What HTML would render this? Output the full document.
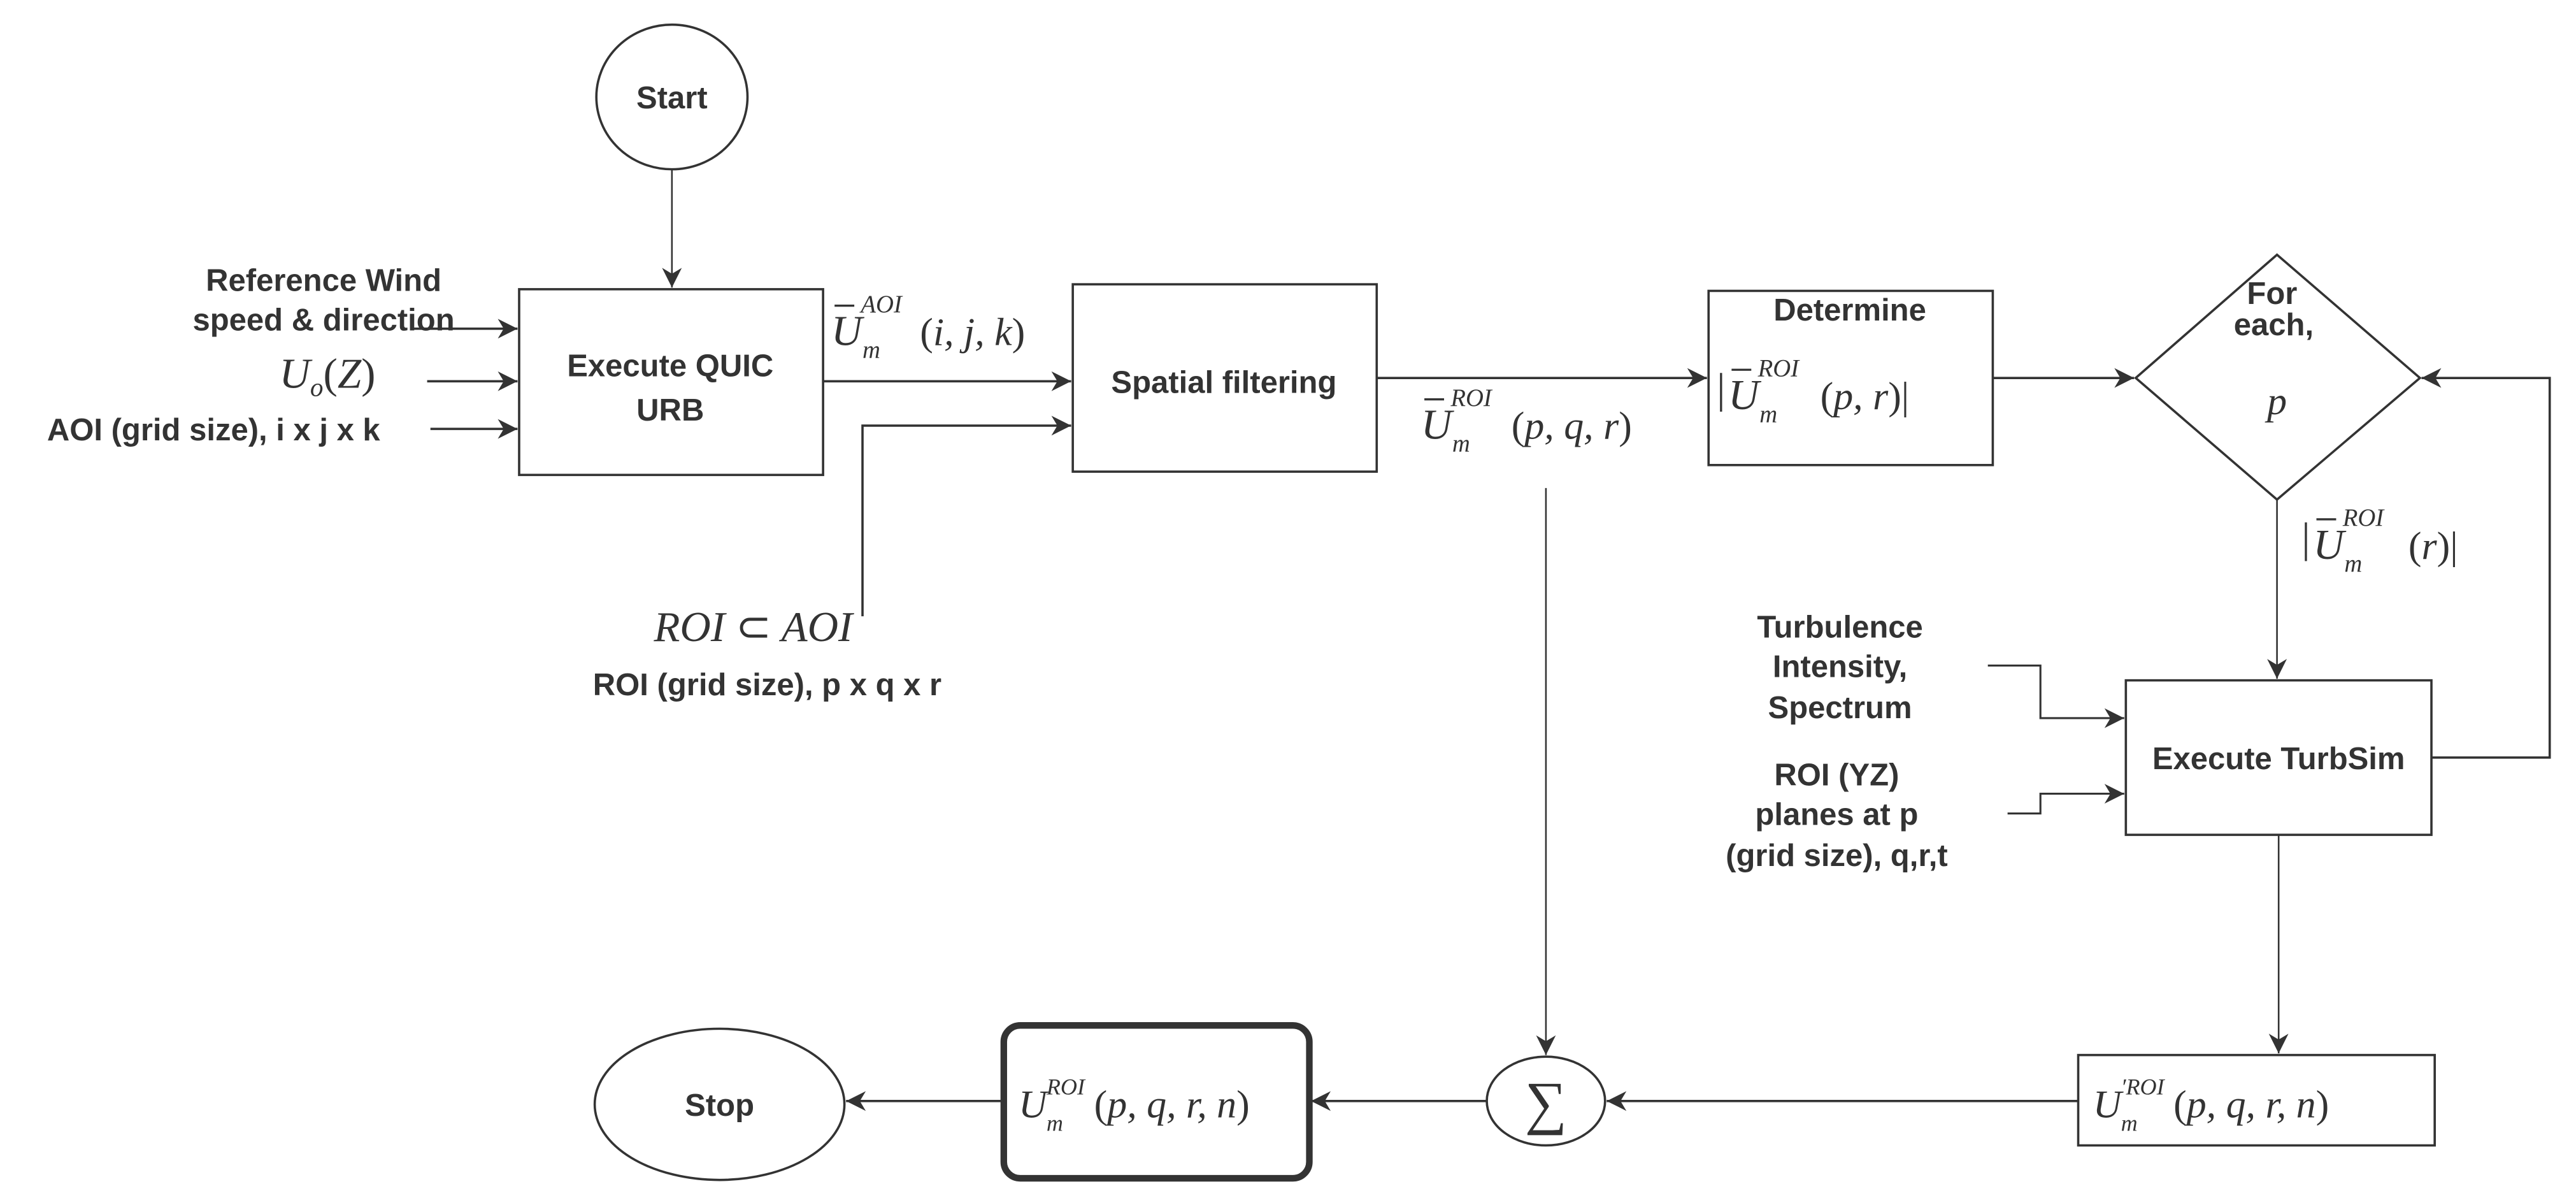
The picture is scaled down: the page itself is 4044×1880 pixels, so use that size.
<!DOCTYPE html>
<html><head><meta charset="utf-8"><style>
html,body{margin:0;padding:0;background:#fff;}
svg{display:block;}
.b{font-family:"Liberation Sans",sans-serif;font-weight:bold;font-size:19px;fill:#333;}
.m{font-family:"Liberation Serif",serif;font-style:italic;fill:#333;}
.u{font-family:"Liberation Serif",serif;fill:#333;}
</style></head><body>
<svg width="4044" height="1880" viewBox="0 0 1568 729" preserveAspectRatio="none" xmlns="http://www.w3.org/2000/svg">
<defs>
<marker id="a" viewBox="0 0 10 10" refX="10" refY="5" markerWidth="13" markerHeight="12" markerUnits="userSpaceOnUse" orient="auto">
<path d="M0,0 L10,5 L0,10 L3,5 z" fill="#333"/></marker>
</defs>
<g stroke="#333" stroke-width="1.4" fill="none">
<ellipse cx="409" cy="59" rx="46" ry="44"/>
<rect x="316" y="176" width="185" height="113"/>
<rect x="653" y="173" width="185" height="114"/>
<rect x="1040" y="177" width="173" height="106"/>
<polygon points="1386,155 1473,230 1386,304 1300,230"/>
<rect x="1294" y="414" width="186" height="94"/>
<rect x="1265" y="642" width="217" height="55"/>
<ellipse cx="941" cy="670" rx="36" ry="27"/>
<rect x="611" y="624" width="186" height="93" rx="10" stroke-width="4"/>
<ellipse cx="438" cy="672" rx="76" ry="46"/>

<line x1="409" y1="103" x2="409" y2="175" marker-end="url(#a)" stroke-width="1"/>
<line x1="250" y1="200" x2="315" y2="200" marker-end="url(#a)"/>
<line x1="260" y1="232" x2="315" y2="232" marker-end="url(#a)"/>
<line x1="262" y1="261" x2="315" y2="261" marker-end="url(#a)"/>
<line x1="501" y1="232" x2="652" y2="232" marker-end="url(#a)"/>
<polyline points="525,375 525,259 652,259" marker-end="url(#a)"/>
<line x1="838" y1="230" x2="1039" y2="230" marker-end="url(#a)"/>
<line x1="941" y1="297" x2="941" y2="642" marker-end="url(#a)" stroke-width="1"/>
<line x1="1213" y1="230" x2="1299" y2="230" marker-end="url(#a)"/>
<polyline points="1480,461 1552,461 1552,230 1474,230" marker-end="url(#a)"/>
<line x1="1386" y1="304" x2="1386" y2="413" marker-end="url(#a)" stroke-width="1"/>
<polyline points="1210,405 1242,405 1242,437 1293,437" marker-end="url(#a)" stroke-width="1.2"/>
<polyline points="1222,495 1242,495 1242,483 1293,483" marker-end="url(#a)" stroke-width="1.2"/>
<line x1="1387" y1="508" x2="1387" y2="641" marker-end="url(#a)" stroke-width="1"/>
<line x1="1265" y1="670" x2="978" y2="670" marker-end="url(#a)"/>
<line x1="905" y1="670" x2="798" y2="670" marker-end="url(#a)"/>
<line x1="611" y1="670" x2="515" y2="670" marker-end="url(#a)"/>
</g>

<g text-anchor="middle">
<text class="b" x="409" y="66">Start</text>
<text class="b" x="408" y="229">Execute QUIC</text>
<text class="b" x="408" y="256">URB</text>
<text class="b" x="745" y="239">Spatial filtering</text>
<text class="b" x="1126" y="195">Determine</text>
<text class="b" x="1383" y="185">For</text>
<text class="b" x="1384" y="204">each,</text>
<text class="b" x="1387" y="468">Execute TurbSim</text>
<text class="b" x="438" y="679">Stop</text>
<text class="b" x="197" y="177">Reference Wind</text>
<text class="b" x="197" y="201">speed &amp; direction</text>
<text class="b" x="130" y="268">AOI (grid size), i x j x k</text>
<text class="b" x="467" y="423">ROI (grid size), p x q x r</text>
<text class="b" x="1120" y="388">Turbulence</text>
<text class="b" x="1120" y="412">Intensity,</text>
<text class="b" x="1120" y="437">Spectrum</text>
<text class="b" x="1118" y="478">ROI (YZ)</text>
<text class="b" x="1118" y="502">planes at p</text>
<text class="b" x="1118" y="527">(grid size), q,r,t</text>
<text class="m" x="1386" y="252" font-size="24">p</text>
<text class="u" x="941" y="683" font-size="36">∑</text>
</g>

<text class="m" x="170" y="236" font-size="26">U<tspan font-size="16" dy="5">o</tspan><tspan class="u" font-style="normal" dy="-5">(</tspan>Z<tspan font-style="normal">)</tspan></text>
<text class="m" x="398" y="390" font-size="26">ROI <tspan font-style="normal">⊂</tspan> AOI</text>

<g>
<line x1="508" y1="186" x2="520" y2="186" stroke="#333" stroke-width="1.3"/>
<text class="m" x="506" y="210" font-size="26">U</text>
<text class="m" x="524" y="190" font-size="15">AOI</text>
<text class="m" x="525" y="218" font-size="15">m</text>
<text class="m" x="560" y="210" font-size="24"><tspan font-style="normal">(</tspan>i, j, k<tspan font-style="normal">)</tspan></text>
</g>
<g>
<line x1="867" y1="243" x2="879" y2="243" stroke="#333" stroke-width="1.3"/>
<text class="m" x="865" y="267" font-size="26">U</text>
<text class="m" x="883" y="247" font-size="15">ROI</text>
<text class="m" x="884" y="275" font-size="15">m</text>
<text class="m" x="920" y="267" font-size="24"><tspan font-style="normal">(</tspan>p, q, r<tspan font-style="normal">)</tspan></text>
</g>
<g>
<text class="u" x="1045" y="245" font-size="26">|</text>
<line x1="1054" y1="225" x2="1066" y2="225" stroke="#333" stroke-width="1.3"/>
<text class="m" x="1052" y="249" font-size="26">U</text>
<text class="m" x="1070" y="229" font-size="15">ROI</text>
<text class="m" x="1071" y="257" font-size="15">m</text>
<text class="m" x="1108" y="249" font-size="24"><tspan font-style="normal">(</tspan>p, r<tspan font-style="normal">)|</tspan></text>
</g>
<g>
<text class="u" x="1401" y="336" font-size="26">|</text>
<line x1="1410" y1="316" x2="1422" y2="316" stroke="#333" stroke-width="1.3"/>
<text class="m" x="1408" y="340" font-size="26">U</text>
<text class="m" x="1426" y="320" font-size="15">ROI</text>
<text class="m" x="1427" y="348" font-size="15">m</text>
<text class="m" x="1466" y="340" font-size="24"><tspan font-style="normal">(</tspan>r<tspan font-style="normal">)|</tspan></text>
</g>
<g>
<text class="m" x="1274" y="680" font-size="24">U</text>
<text class="m" x="1291" y="666" font-size="14">′ROI</text>
<text class="m" x="1291" y="688" font-size="14">m</text>
<text class="m" x="1323" y="680" font-size="24"><tspan font-style="normal">(</tspan>p, q, r, n<tspan font-style="normal">)</tspan></text>
</g>
<g>
<text class="m" x="620" y="680" font-size="24">U</text>
<text class="m" x="637" y="666" font-size="14">ROI</text>
<text class="m" x="637" y="688" font-size="14">m</text>
<text class="m" x="666" y="680" font-size="24"><tspan font-style="normal">(</tspan>p, q, r, n<tspan font-style="normal">)</tspan></text>
</g>
</svg>
</body></html>
